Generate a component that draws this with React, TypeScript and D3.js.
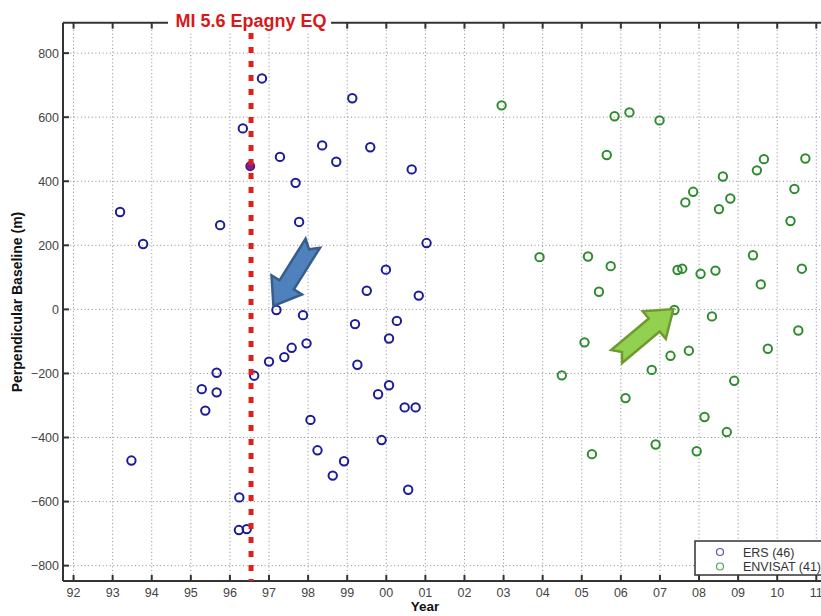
import React from "react";
import * as d3 from "d3";

// ---------- data ----------
const ersYears = [93.19, 93.78, 93.48, 95.75, 96.33, 97.28, 98.36, 98.72, 97.68, 97.77, 97.19, 97.87, 99.2, 97.96, 97.58, 97.39, 97.0, 99.26, 96.62, 95.66, 95.28, 95.66, 95.37, 98.06, 98.24, 98.92, 98.63, 96.24, 96.23, 96.43, 100.56, 96.82, 99.13, 99.59, 100.65, 101.03, 99.99, 99.5, 100.83, 100.27, 100.07, 100.07, 99.79, 100.47, 100.75, 99.88];
const ersBaselines = [304, 204, -472, 263, 565, 476, 512, 461, 395, 273, -2, -18, -46, -106, -120, -149, -163, -173, -207, -198, -249, -259, -316, -345, -440, -474, -519, -587, -689, -686, -563, 721, 659, 506, 437, 207, 124, 58, 43, -36, -91, -237, -265, -306, -306, -408];

const envisatYears = [102.95, 105.84, 106.22, 106.99, 105.64, 109.66, 110.72, 109.48, 108.61, 110.44, 107.85, 107.65, 108.8, 108.51, 110.34, 103.92, 105.16, 105.74, 105.44, 107.45, 107.57, 108.04, 108.42, 109.38, 109.58, 110.63, 107.37, 108.33, 110.54, 109.76, 105.07, 107.74, 107.27, 106.79, 104.49, 108.9, 106.12, 108.14, 108.71, 106.89, 107.94, 105.26];
const envisatBaselines = [637, 603, 615, 590, 482, 469, 471, 434, 415, 376, 367, 334, 346, 313, 276, 163, 165, 135, 55, 123, 127, 111, 121, 169, 78, 127, -2, -22, -66, -123, -103, -129, -145, -189, -206, -223, -277, -336, -383, -422, -443, -452];

// highlighted acquisition on the earthquake date
const masterYear = [96.52];
const masterBaseline = [447];

const quakeYear = 96.54;
const titleText = "MI 5.6 Epagny EQ";

const xTickValues = d3.range(92, 112);
const xTickLabels = ["92", "93", "94", "95", "96", "97", "98", "99", "00", "01", "02", "03", "04", "05", "06", "07", "08", "09", "10", "11"];
const yTickValues = [-800, -600, -400, -200, 0, 200, 400, 600, 800];

const legendLabels = ["ERS (46)", "ENVISAT (41)"];

// arrow targets (year, baseline)
const arrowTargetYears = [97.19, 107.37];
const arrowTargetBaselines = [-2, -2];

// ---------- layout ----------
const W = 821;
const H = 616;
const left = 63;
const right = 821;
const top = 22.7;
const bottom = 581;

const FONT = "'Liberation Sans', Arial, Helvetica, sans-serif";
const BLUE = "#1c1c96";
const GREEN = "#2e8b2e";

export default function App() {
  const x = d3.scaleLinear().domain([91.73, 111.12]).range([left, right]);
  const y = d3.scaleLinear().domain([-848, 895]).range([bottom, top]);

  const ers = ersYears.map((v, i) => ({ x: v, y: ersBaselines[i] }));
  const env = envisatYears.map((v, i) => ({ x: v, y: envisatBaselines[i] }));

  const tickLen = 6;
  const qx = x(quakeYear);

  // arrow geometry
  const arrowSpecs = [
    { angle: Math.atan2(59, -37), off: [-3, -4], fill: "#4f81bd", stroke: "#385d8a" },
    { angle: Math.atan2(-46, 55), off: [-1, -1], fill: "#92d050", stroke: "#6f9a2e" },
  ];
  const arrowPath = (tx: number, ty: number, th: number) => {
    const L = 74, w = 8.5, Wd = 18, h = 25, n = 7;
    const pts: [number, number][] = [
      [0, -w], [L - h, -w], [L - h, -Wd], [L, 0], [L - h, Wd], [L - h, w], [0, w], [n, 0],
    ];
    const dx = Math.cos(th), dy = Math.sin(th);
    const px = -dy, py = dx;
    const p = pts.map(([u, v]) => [tx + (u - L) * dx + v * px, ty + (u - L) * dy + v * py]);
    return "M" + p.map((q) => q[0].toFixed(1) + "," + q[1].toFixed(1)).join("L") + "Z";
  };

  const gridStyle = { stroke: "#8a8a8a", strokeWidth: 1, strokeDasharray: "1,2.6" };

  return (
    <svg width={W} height={H} style={{ position: "absolute", left: 0, top: 0, background: "#fff" }} fontFamily={FONT}>
      <rect x={0} y={0} width={W} height={H} fill="#fff" />
      {/* grid */}
      {xTickValues.map((t) => (
        <line key={"gx" + t} x1={x(t)} x2={x(t)} y1={top} y2={bottom} {...gridStyle} />
      ))}
      {yTickValues.map((t) => (
        <line key={"gy" + t} x1={left} x2={right} y1={y(t)} y2={y(t)} {...gridStyle} />
      ))}

      {/* axes box */}
      <line x1={left} x2={right} y1={bottom} y2={bottom} stroke="#333" strokeWidth={2} />
      <line x1={left} x2={right} y1={top} y2={top} stroke="#333" strokeWidth={2} />
      <line x1={left} x2={left} y1={top} y2={bottom} stroke="#333" strokeWidth={2} />

      {/* ticks */}
      {xTickValues.map((t) => (
        <g key={"tx" + t}>
          <line x1={x(t)} x2={x(t)} y1={bottom} y2={bottom - tickLen} stroke="#333" strokeWidth={2} />
          <line x1={x(t)} x2={x(t)} y1={top} y2={top + tickLen} stroke="#333" strokeWidth={2} />
        </g>
      ))}
      {yTickValues.map((t) => (
        <line key={"ty" + t} x1={left} x2={left + tickLen} y1={y(t)} y2={y(t)} stroke="#333" strokeWidth={2} />
      ))}

      {/* tick labels */}
      {xTickValues.map((t, i) => (
        <text key={"lx" + t} x={x(t)} y={597} textAnchor="middle" fontSize={12.5} fill="#444">
          {xTickLabels[i]}
        </text>
      ))}
      {yTickValues.map((t) => (
        <text key={"ly" + t} x={59} y={y(t) + 4.5} textAnchor="end" fontSize={12.5} fill="#444">
          {t < 0 ? "\u2212" + Math.abs(t) : String(t)}
        </text>
      ))}

      {/* axis titles */}
      <text x={425} y={611} textAnchor="middle" fontSize={13.5} fontWeight="bold" fill="#111">Year</text>
      <text transform={`translate(22,302) rotate(-90)`} textAnchor="middle" fontSize={14} fontWeight="bold" fill="#111">
        Perpendicular Baseline (m)
      </text>

      {/* data */}
      {ers.map((d, i) => (
        <circle key={"e" + i} cx={x(d.x)} cy={y(d.y)} r={4.2} fill="none" stroke={BLUE} strokeWidth={2} />
      ))}
      {env.map((d, i) => (
        <circle key={"v" + i} cx={x(d.x)} cy={y(d.y)} r={4.2} fill="none" stroke={GREEN} strokeWidth={2} />
      ))}
      {masterYear.map((m, i) => (
        <circle key={"m" + i} cx={x(m)} cy={y(masterBaseline[i])} r={4.2} fill="#8a1a8a" stroke="#4a1a7a" strokeWidth={1.5} />
      ))}

      {/* earthquake line */}
      <line x1={qx} x2={qx} y1={33} y2={bottom} stroke="#e0201c" strokeWidth={5} strokeDasharray="6,8" />

      {/* title */}
      <rect x={qx - 83} y={10} width={163} height={22} fill="#fff" />
      <text x={qx} y={26.5} textAnchor="middle" fontSize={18} fontWeight="bold" fill="#d7191c">
        {titleText}
      </text>

      {/* arrows */}
      {arrowTargetYears.map((a, i) => {
        const s = arrowSpecs[i];
        return (
          <path key={"a" + i}
            d={arrowPath(x(a) + s.off[0], y(arrowTargetBaselines[i]) + s.off[1], s.angle)}
            fill={s.fill} stroke={s.stroke} strokeWidth={2.5} strokeLinejoin="miter" />
        );
      })}

      {/* legend */}
      <rect x={695} y={541} width={140} height={34} fill="#fff" stroke="#333" strokeWidth={1.5} />
      {legendLabels.map((l, i) => (
        <g key={"lg" + i}>
          <circle cx={720} cy={552 + i * 14.5} r={3.5} fill="none" stroke={i === 0 ? "#5555aa" : "#55a055"} strokeWidth={1.2} />
          <text x={743} y={556.5 + i * 14.5} fontSize={12.5} fill="#333">{l}</text>
        </g>
      ))}
    </svg>
  );
}
